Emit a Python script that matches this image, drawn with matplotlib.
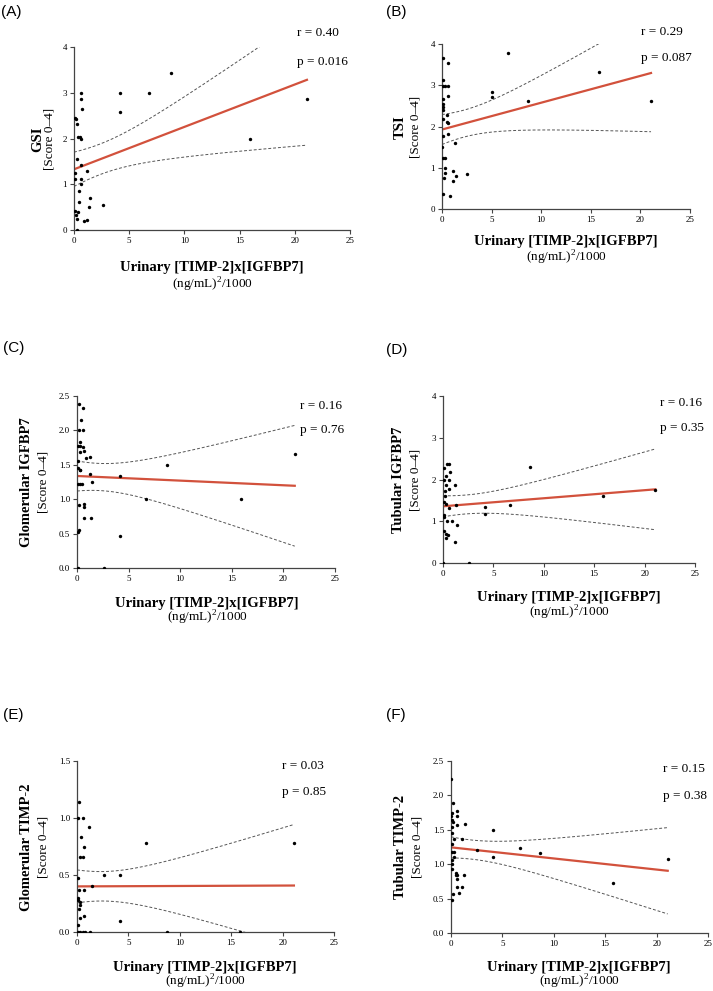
import matplotlib
matplotlib.use("Agg")
import matplotlib.pyplot as plt
import numpy as np

SERIF = "Liberation Serif"
plt.rcParams["mathtext.fontset"] = "custom"
plt.rcParams["mathtext.rm"] = SERIF

# panel A: GSI
xA = [0.08, 0.2, 0.3, 0.4, 0.55, 0.6, 0.65, 0.6, 0.72, 0.3, 0.65, 1.2, 0.1, 0.12, 0.65, 0.6, 0.45,
      1.45, 0.45, 1.36, 2.63, 0.08, 0.35, 0.2, 0.3, 1.2, 0.9, 0.3, 4.2, 4.17, 6.76, 8.76, 15.9, 21.1]
yA = [2.45, 2.42, 2.32, 2.04, 2.03, 2.0, 3.0, 2.86, 2.64, 1.55, 1.41, 1.28, 1.24, 1.12, 1.12, 1.0, 0.85,
      0.71, 0.62, 0.5, 0.54, 0.42, 0.4, 0.33, 0.25, 0.22, 0.19, 0.0, 3.0, 2.57, 3.0, 3.43, 2.0, 2.86]

# panel B: TSI
xB = [0.07, 0.57, 0.13, 0.13, 0.34, 0.57, 0.6, 0.07, 0.13, 0.13, 0.13, 0.54, 0.13, 0.54, 0.6, 0.64,
      0.13, 1.34, 0.0, 0.13, 0.34, 0.34, 0.3, 0.25, 1.14, 1.14, 1.41, 2.52, 0.13, 0.84,
      5.0, 5.0, 6.69, 8.67, 15.86, 21.07]
yB = [3.65, 3.55, 3.13, 2.99, 2.99, 2.99, 2.75, 2.67, 2.54, 2.48, 2.4, 2.28, 2.19, 2.1, 2.08, 1.81,
      1.77, 1.61, 1.5, 1.23, 1.23, 1.0, 0.87, 0.75, 0.91, 0.67, 0.81, 0.85, 0.37, 0.32,
      2.83, 2.71, 3.79, 2.63, 3.33, 2.63]

# panel C: glomerular IGFBP7
xC = [0.16, 0.58, 0.42, 0.16, 0.58, 0.25, 0.32, 0.06, 0.55, 0.7, 0.32, 0.9, 1.23, 0.06, 0.13, 0.25,
      0.32, 1.23, 1.45, 0.13, 0.32, 0.48, 0.2, 0.65, 0.65, 0.65, 1.35, 0.2, 0.06, 0.06, 2.65,
      4.19, 4.19, 6.71, 8.71, 15.87, 21.1]
yC = [2.38, 2.33, 2.15, 2.0, 2.0, 1.83, 1.78, 1.78, 1.76, 1.7, 1.69, 1.6, 1.62, 1.56, 1.45, 1.43,
      1.42, 1.36, 1.25, 1.22, 1.22, 1.22, 0.91, 0.93, 0.88, 0.73, 0.73, 0.55, 0.53, 0.0, 0.0,
      1.33, 0.46, 1.0, 1.5, 1.0, 1.66]

# panel D: tubular IGFBP7
xD = [0.1, 0.4, 0.6, 0.66, 0.26, 0.06, 0.6, 0.26, 1.19, 0.17, 0.6, 0.17, 0.1, 0.26, 0.56, 1.32,
      0.06, 0.13, 0.4, 0.9, 1.42, 0.06, 0.26, 0.5, 0.26, 1.19, 0.0, 2.58,
      4.13, 4.13, 6.67, 8.65, 15.85, 21.07]
yD = [2.28, 2.37, 2.37, 2.17, 2.08, 2.0, 2.0, 1.87, 1.87, 1.73, 1.77, 1.6, 1.47, 1.42, 1.31, 1.39,
      1.15, 1.11, 1.0, 1.0, 0.9, 0.76, 0.7, 0.66, 0.6, 0.5, 0.0, 0.0,
      1.33, 1.17, 1.38, 2.31, 1.61, 1.75]

# panel E: glomerular TIMP-2
xE = [0.23, 0.06, 0.58, 1.2, 0.39, 0.65, 0.32, 0.58, 0.06, 1.46, 0.65, 0.23, 0.06, 0.13, 0.26,
      0.3, 0.2, 0.65, 0.26, 0.06, 0.06, 0.32, 0.58, 0.81, 1.3, 2.66, 4.15, 4.15, 6.74, 8.74, 15.87, 21.1]
yE = [1.14, 1.0, 1.0, 0.92, 0.83, 0.75, 0.66, 0.66, 0.47, 0.4, 0.37, 0.37, 0.3, 0.28, 0.26,
      0.24, 0.2, 0.14, 0.12, 0.06, 0.0, 0.0, 0.0, 0.0, 0.0, 0.5, 0.5, 0.1, 0.78, 0.0, 0.0, 0.78]

# panel F: tubular TIMP-2
xF = [0.0, 0.16, 0.6, 0.13, 0.03, 0.55, 0.06, 0.16, 0.55, 1.36, 0.06, 0.13, 0.32, 1.1, 0.06, 0.06,
      0.29, 0.32, 0.06, 0.06, 0.13, 0.45, 0.6, 0.45, 1.3, 0.6, 0.6, 1.1, 0.78, 0.19, 0.13,
      2.56, 4.09, 4.09, 6.68, 8.66, 15.79, 21.08]
yF = [2.24, 1.89, 1.78, 1.75, 1.7, 1.7, 1.64, 1.61, 1.57, 1.58, 1.54, 1.45, 1.37, 1.37, 1.29, 1.18,
      1.18, 1.11, 1.06, 1.01, 0.93, 0.87, 0.84, 0.84, 0.85, 0.78, 0.67, 0.67, 0.58, 0.57, 0.48,
      1.2, 1.49, 1.11, 1.23, 1.17, 0.72, 1.07]

ylabels = ["GSI", "TSI", "Glomerular IGFBP7", "Tubular IGFBP7", "Glomerular TIMP-2", "Tubular TIMP-2"]
letters = ["(A)", "(B)", "(C)", "(D)", "(E)", "(F)"]
r_vals = ["0.40", "0.29", "0.16", "0.16", "0.03", "0.15"]
p_vals = ["0.016", "0.087", "0.76", "0.35", "0.85", "0.38"]
ymax = [4, 4, 2.5, 4, 1.5, 2.5]
ystep = [1, 1, 0.5, 1, 0.5, 0.5]

xs_all = [xA, xB, xC, xD, xE, xF]
ys_all = [yA, yB, yC, yD, yE, yF]

W, H = 713, 991
RED = "#d2513c"

# axes boxes in pixels: left, top, right, bottom
boxes = [(74, 47, 350, 230), (442, 44, 690, 209),
         (77, 396, 335, 568), (443, 396, 695, 563),
         (77, 761, 334, 932), (451, 761, 708, 933)]
# text anchors in pixels
letter_pos = [(1, 12), (386, 12), (3, 348), (386, 350), (3, 715), (386, 715)]
rp_pos = [(297, 33, 62), (641, 32, 58), (300, 406, 430), (660, 403, 428), (282, 766, 792), (663, 769, 796)]
xlab_pos = [(212, 267, 285), (566, 242, 258), (207, 603, 618), (569, 597, 613), (205, 967, 982), (579, 967, 982)]
ylab_pos = [(38, 49, 139), (400, 416, 127), (27, 43, 482), (399, 416, 480), (27, 43, 847), (400, 417, 847)]


def fx(px):
    return px / W


def fy(py):
    return 1 - py / H


fig = plt.figure(figsize=(W / 100, H / 100), dpi=100)

for i in range(6):
    l, t, r, b = boxes[i]
    ax = fig.add_axes([fx(l), fy(b), (r - l) / W, (b - t) / H])
    x = np.array(xs_all[i])
    y = np.array(ys_all[i])

    # linear fit + 95% confidence band
    slope, icpt = np.polyfit(x, y, 1)
    n = len(x)
    s = np.sqrt(np.sum((y - (icpt + slope * x)) ** 2) / (n - 2))
    sxx = np.sum((x - x.mean()) ** 2)
    xx = np.linspace(0, x.max(), 200)
    yy = icpt + slope * xx
    half = 2.03 * s * np.sqrt(1 / n + (xx - x.mean()) ** 2 / sxx)

    ax.plot(xx, yy + half, color="#555555", lw=0.7, dashes=(3, 2))
    ax.plot(xx, yy - half, color="#555555", lw=0.7, dashes=(3, 2))
    ax.plot(xx, yy, color=RED, lw=1.6)
    ax.scatter(x, y, s=6, color="black", zorder=3, linewidths=0)

    ax.set_xlim(0, 25)
    ax.set_ylim(0, ymax[i])
    ax.set_xticks(np.arange(0, 26, 5))
    yt = np.arange(0, ymax[i] + 0.01, ystep[i])
    ax.set_yticks(yt)
    if ystep[i] < 1:
        ax.set_yticklabels([f"{v:.1f}" for v in yt])
    else:
        ax.set_yticklabels([f"{v:.0f}" for v in yt])
    for sp in ["top", "right"]:
        ax.spines[sp].set_visible(False)
    for sp in ["left", "bottom"]:
        ax.spines[sp].set_color("#444444")
        ax.spines[sp].set_linewidth(0.9)
    ax.tick_params(direction="out", length=3, width=0.8, color="#444444", labelsize=6.5, pad=2)
    for lab in ax.get_xticklabels() + ax.get_yticklabels():
        lab.set_fontfamily(SERIF)

    # panel letter
    lx, ly = letter_pos[i]
    fig.text(fx(lx), fy(ly), letters[i], fontsize=11, family="Liberation Sans", va="center", ha="left")

    # r and p
    rx, ry, py_ = rp_pos[i]
    fig.text(fx(rx), fy(ry), "r = " + r_vals[i], fontsize=9.5, family=SERIF, va="center", ha="left")
    fig.text(fx(rx), fy(py_), "p = " + p_vals[i], fontsize=9.5, family=SERIF, va="center", ha="left")

    # x labels
    cx, y1, y2 = xlab_pos[i]
    fig.text(fx(cx), fy(y1), "Urinary [TIMP-2]x[IGFBP7]", fontsize=10.5, fontweight="bold",
             family=SERIF, ha="center", va="center")
    fig.text(fx(cx), fy(y2), "(ng/mL)$^{2}$/1000", fontsize=9.5, family=SERIF, ha="center", va="center")

    # y labels
    x1, x2, cy = ylab_pos[i]
    fig.text(fx(x1), fy(cy), ylabels[i], fontsize=10.5, fontweight="bold", family=SERIF,
             rotation=90, ha="center", va="center")
    fig.text(fx(x2), fy(cy), "[Score 0\u20134]", fontsize=9.5, family=SERIF,
             rotation=90, ha="center", va="center")

fig.savefig("out.png", dpi=100)
